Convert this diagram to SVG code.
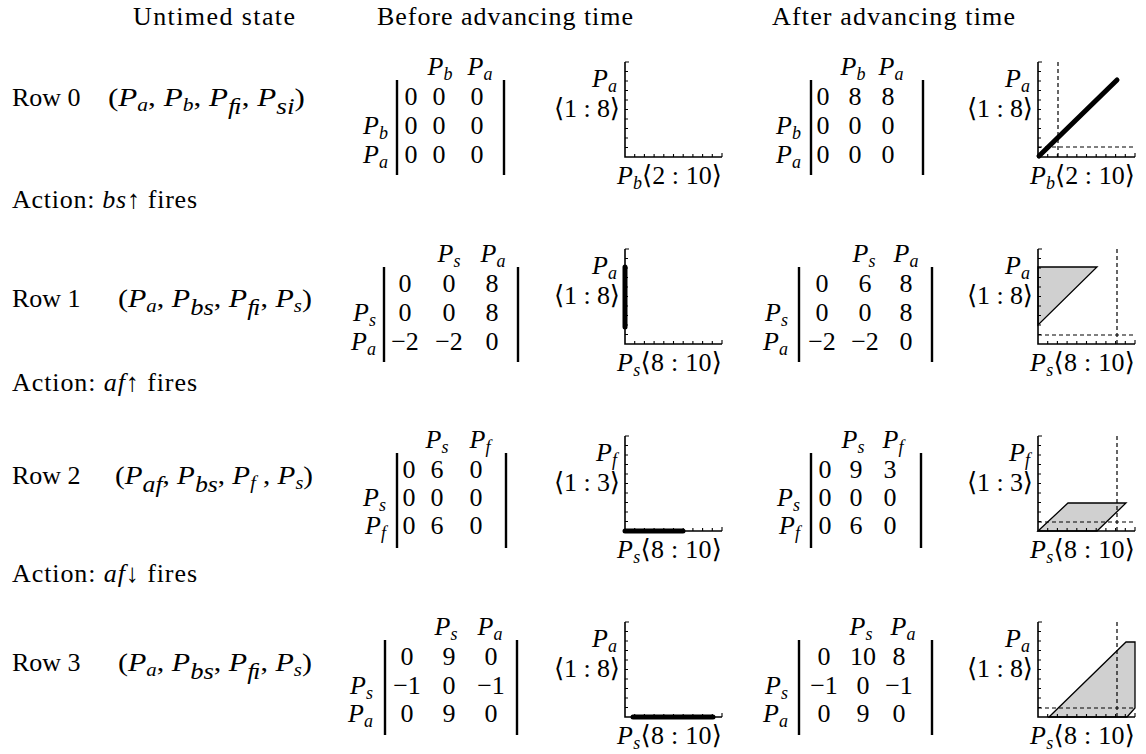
<svg xmlns="http://www.w3.org/2000/svg" xmlns:xlink="http://www.w3.org/1999/xlink" width="1146" height="754" viewBox="0 0 1146 754">
<style>
.t{font-family:"Liberation Serif","DejaVu Serif","DejaVu Sans",serif;font-size:26px;fill:#000}
.i{font-style:italic}
.s{font-size:18px;font-style:italic}
.s2{font-size:23px;font-style:italic}
.mid{text-anchor:middle}
.end{text-anchor:end}
.ax{stroke:#000;stroke-width:1.6;fill:none}
.tk{stroke:#000;stroke-width:1.1;fill:none}
.bar{stroke:#000;stroke-width:2.4}
.dash{stroke:#000;stroke-width:1.2;stroke-dasharray:4 3;fill:none}
.reg{fill:#d0d0d0;stroke:#000;stroke-width:1.3}
.thick{stroke:#000;stroke-width:5;stroke-linecap:round;fill:none}
</style>
<defs>
<g id="axes">
<path class="ax" d="M0,-95 V0 H97"/>
<path class="tk" d="M0,-95 h4 M0,-85.5 h3 M0,-76 h3 M0,-66.5 h3 M0,-57 h3 M0,-47.5 h3 M0,-38 h3 M0,-28.5 h3 M0,-19 h3 M0,-9.5 h3 M97,0 v-4 M9.7,0 v-3 M19.4,0 v-3 M29.1,0 v-3 M38.8,0 v-3 M48.5,0 v-3 M58.2,0 v-3 M67.9,0 v-3 M77.6,0 v-3 M87.3,0 v-3"/>
</g>
</defs>
<rect width="1146" height="754" fill="#fff"/>

<g id="headers">
<text class="t" x="133" y="25" textLength="162" lengthAdjust="spacing">Untimed state</text>
<text class="t" x="377" y="25" textLength="256" lengthAdjust="spacing">Before advancing time</text>
<text class="t" x="772" y="25" textLength="243" lengthAdjust="spacing">After advancing time</text>
</g>

<g id="row0-label">
<text class="t" x="12" y="106">Row 0</text>
<text class="t" x="108" y="106" textLength="197" lengthAdjust="spacingAndGlyphs">(<tspan class="i">P</tspan><tspan class="s" dy="5">a</tspan><tspan dy="-5">, </tspan><tspan class="i">P</tspan><tspan class="s" dy="5">b</tspan><tspan dy="-5">, </tspan><tspan class="i">P</tspan><tspan class="s2" dy="8">ﬁ</tspan><tspan dy="-8">, </tspan><tspan class="i">P</tspan><tspan class="s2" dy="8">si</tspan><tspan dy="-8">)</tspan></text>
</g>
<g id="action0"><text class="t" x="12" y="208" textLength="185" lengthAdjust="spacing">Action: <tspan class="i">bs</tspan>↑ fires</text></g>

<g id="row1-label">
<text class="t" x="12" y="307">Row 1</text>
<text class="t" x="118" y="307" textLength="194" lengthAdjust="spacingAndGlyphs">(<tspan class="i">P</tspan><tspan class="s" dy="5">a</tspan><tspan dy="-5">, </tspan><tspan class="i">P</tspan><tspan class="s2" dy="8">bs</tspan><tspan dy="-8">, </tspan><tspan class="i">P</tspan><tspan class="s2" dy="8">ﬁ</tspan><tspan dy="-8">, </tspan><tspan class="i">P</tspan><tspan class="s" dy="5">s</tspan><tspan dy="-5">)</tspan></text>
</g>
<g id="action1"><text class="t" x="12" y="391" textLength="185" lengthAdjust="spacing">Action: <tspan class="i">af</tspan>↑ fires</text></g>

<g id="row2-label">
<text class="t" x="12" y="484">Row 2</text>
<text class="t" x="115" y="484" textLength="198" lengthAdjust="spacingAndGlyphs">(<tspan class="i">P</tspan><tspan class="s2" dy="8">af</tspan><tspan dy="-8">, </tspan><tspan class="i">P</tspan><tspan class="s2" dy="8">bs</tspan><tspan dy="-8">, </tspan><tspan class="i">P</tspan><tspan class="s" dy="5">f</tspan><tspan dy="-5"> , </tspan><tspan class="i">P</tspan><tspan class="s" dy="5">s</tspan><tspan dy="-5">)</tspan></text>
</g>
<g id="action2"><text class="t" x="12" y="582" textLength="185" lengthAdjust="spacing">Action: <tspan class="i">af</tspan>↓ fires</text></g>

<g id="row3-label">
<text class="t" x="12" y="671">Row 3</text>
<text class="t" x="118" y="671" textLength="194" lengthAdjust="spacingAndGlyphs">(<tspan class="i">P</tspan><tspan class="s" dy="5">a</tspan><tspan dy="-5">, </tspan><tspan class="i">P</tspan><tspan class="s2" dy="8">bs</tspan><tspan dy="-8">, </tspan><tspan class="i">P</tspan><tspan class="s2" dy="8">ﬁ</tspan><tspan dy="-8">, </tspan><tspan class="i">P</tspan><tspan class="s" dy="5">s</tspan><tspan dy="-5">)</tspan></text>
</g>

<!-- Row 0 matrices -->
<g id="m0-before">
<text class="t mid" x="440" y="75"><tspan class="i">P</tspan><tspan class="s" dy="5">b</tspan></text>
<text class="t mid" x="480" y="75"><tspan class="i">P</tspan><tspan class="s" dy="5">a</tspan></text>
<text class="t end" x="388" y="134"><tspan class="i">P</tspan><tspan class="s" dy="5">b</tspan></text>
<text class="t end" x="388" y="163"><tspan class="i">P</tspan><tspan class="s" dy="5">a</tspan></text>
<line class="bar" x1="397" y1="80" x2="397" y2="175"/><line class="bar" x1="504" y1="80" x2="504" y2="175"/>
<text class="t mid" x="411" y="105">0</text><text class="t mid" x="439" y="105">0</text><text class="t mid" x="477" y="105">0</text>
<text class="t mid" x="411" y="134">0</text><text class="t mid" x="439" y="134">0</text><text class="t mid" x="477" y="134">0</text>
<text class="t mid" x="411" y="163">0</text><text class="t mid" x="439" y="163">0</text><text class="t mid" x="477" y="163">0</text>
</g>
<g id="m0-after">
<text class="t mid" x="853" y="75"><tspan class="i">P</tspan><tspan class="s" dy="5">b</tspan></text>
<text class="t mid" x="891" y="75"><tspan class="i">P</tspan><tspan class="s" dy="5">a</tspan></text>
<text class="t end" x="801" y="134"><tspan class="i">P</tspan><tspan class="s" dy="5">b</tspan></text>
<text class="t end" x="801" y="163"><tspan class="i">P</tspan><tspan class="s" dy="5">a</tspan></text>
<line class="bar" x1="811" y1="80" x2="811" y2="175"/><line class="bar" x1="923" y1="80" x2="923" y2="175"/>
<text class="t mid" x="823" y="105">0</text><text class="t mid" x="855" y="105">8</text><text class="t mid" x="888" y="105">8</text>
<text class="t mid" x="823" y="134">0</text><text class="t mid" x="855" y="134">0</text><text class="t mid" x="888" y="134">0</text>
<text class="t mid" x="823" y="163">0</text><text class="t mid" x="855" y="163">0</text><text class="t mid" x="888" y="163">0</text>
</g>

<!-- Row 1 matrices -->
<g id="m1-before">
<text class="t mid" x="449" y="262"><tspan class="i">P</tspan><tspan class="s" dy="5">s</tspan></text>
<text class="t mid" x="493" y="262"><tspan class="i">P</tspan><tspan class="s" dy="5">a</tspan></text>
<text class="t end" x="376" y="321"><tspan class="i">P</tspan><tspan class="s" dy="5">s</tspan></text>
<text class="t end" x="376" y="350"><tspan class="i">P</tspan><tspan class="s" dy="5">a</tspan></text>
<line class="bar" x1="384" y1="267" x2="384" y2="362"/><line class="bar" x1="518" y1="267" x2="518" y2="362"/>
<text class="t mid" x="405" y="292">0</text><text class="t mid" x="449" y="292">0</text><text class="t mid" x="492" y="292">8</text>
<text class="t mid" x="405" y="321">0</text><text class="t mid" x="449" y="321">0</text><text class="t mid" x="492" y="321">8</text>
<text class="t mid" x="405" y="350">−2</text><text class="t mid" x="449" y="350">−2</text><text class="t mid" x="492" y="350">0</text>
</g>
<g id="m1-after">
<text class="t mid" x="864" y="262"><tspan class="i">P</tspan><tspan class="s" dy="5">s</tspan></text>
<text class="t mid" x="906" y="262"><tspan class="i">P</tspan><tspan class="s" dy="5">a</tspan></text>
<text class="t end" x="788" y="321"><tspan class="i">P</tspan><tspan class="s" dy="5">s</tspan></text>
<text class="t end" x="788" y="350"><tspan class="i">P</tspan><tspan class="s" dy="5">a</tspan></text>
<line class="bar" x1="799" y1="267" x2="799" y2="362"/><line class="bar" x1="932" y1="267" x2="932" y2="362"/>
<text class="t mid" x="822" y="292">0</text><text class="t mid" x="865" y="292">6</text><text class="t mid" x="906" y="292">8</text>
<text class="t mid" x="822" y="321">0</text><text class="t mid" x="865" y="321">0</text><text class="t mid" x="906" y="321">8</text>
<text class="t mid" x="822" y="350">−2</text><text class="t mid" x="865" y="350">−2</text><text class="t mid" x="906" y="350">0</text>
</g>

<!-- Row 2 matrices -->
<g id="m2-before">
<text class="t mid" x="437" y="448"><tspan class="i">P</tspan><tspan class="s" dy="5">s</tspan></text>
<text class="t mid" x="480" y="448"><tspan class="i">P</tspan><tspan class="s" dy="5">f</tspan></text>
<text class="t end" x="386" y="506"><tspan class="i">P</tspan><tspan class="s" dy="5">s</tspan></text>
<text class="t end" x="386" y="534"><tspan class="i">P</tspan><tspan class="s" dy="5">f</tspan></text>
<line class="bar" x1="397" y1="453" x2="397" y2="548"/><line class="bar" x1="506" y1="453" x2="506" y2="548"/>
<text class="t mid" x="409" y="478">0</text><text class="t mid" x="437" y="478">6</text><text class="t mid" x="476" y="478">0</text>
<text class="t mid" x="409" y="506">0</text><text class="t mid" x="437" y="506">0</text><text class="t mid" x="476" y="506">0</text>
<text class="t mid" x="409" y="534">0</text><text class="t mid" x="437" y="534">6</text><text class="t mid" x="476" y="534">0</text>
</g>
<g id="m2-after">
<text class="t mid" x="853" y="448"><tspan class="i">P</tspan><tspan class="s" dy="5">s</tspan></text>
<text class="t mid" x="893" y="448"><tspan class="i">P</tspan><tspan class="s" dy="5">f</tspan></text>
<text class="t end" x="800" y="506"><tspan class="i">P</tspan><tspan class="s" dy="5">s</tspan></text>
<text class="t end" x="800" y="534"><tspan class="i">P</tspan><tspan class="s" dy="5">f</tspan></text>
<line class="bar" x1="811" y1="453" x2="811" y2="548"/><line class="bar" x1="921" y1="453" x2="921" y2="548"/>
<text class="t mid" x="825" y="478">0</text><text class="t mid" x="856" y="478">9</text><text class="t mid" x="890" y="478">3</text>
<text class="t mid" x="825" y="506">0</text><text class="t mid" x="856" y="506">0</text><text class="t mid" x="890" y="506">0</text>
<text class="t mid" x="825" y="534">0</text><text class="t mid" x="856" y="534">6</text><text class="t mid" x="890" y="534">0</text>
</g>

<!-- Row 3 matrices -->
<g id="m3-before">
<text class="t mid" x="446" y="635"><tspan class="i">P</tspan><tspan class="s" dy="5">s</tspan></text>
<text class="t mid" x="490" y="635"><tspan class="i">P</tspan><tspan class="s" dy="5">a</tspan></text>
<text class="t end" x="373" y="694"><tspan class="i">P</tspan><tspan class="s" dy="5">s</tspan></text>
<text class="t end" x="373" y="722"><tspan class="i">P</tspan><tspan class="s" dy="5">a</tspan></text>
<line class="bar" x1="385" y1="640" x2="385" y2="735"/><line class="bar" x1="517" y1="640" x2="517" y2="735"/>
<text class="t mid" x="407" y="665">0</text><text class="t mid" x="449" y="665">9</text><text class="t mid" x="491" y="665">0</text>
<text class="t mid" x="407" y="694">−1</text><text class="t mid" x="449" y="694">0</text><text class="t mid" x="491" y="694">−1</text>
<text class="t mid" x="407" y="722">0</text><text class="t mid" x="449" y="722">9</text><text class="t mid" x="491" y="722">0</text>
</g>
<g id="m3-after">
<text class="t mid" x="861" y="635"><tspan class="i">P</tspan><tspan class="s" dy="5">s</tspan></text>
<text class="t mid" x="903" y="635"><tspan class="i">P</tspan><tspan class="s" dy="5">a</tspan></text>
<text class="t end" x="788" y="694"><tspan class="i">P</tspan><tspan class="s" dy="5">s</tspan></text>
<text class="t end" x="788" y="722"><tspan class="i">P</tspan><tspan class="s" dy="5">a</tspan></text>
<line class="bar" x1="799" y1="640" x2="799" y2="735"/><line class="bar" x1="932" y1="640" x2="932" y2="735"/>
<text class="t mid" x="824" y="665">0</text><text class="t mid" x="863" y="665">10</text><text class="t mid" x="899" y="665">8</text>
<text class="t mid" x="824" y="694">−1</text><text class="t mid" x="863" y="694">0</text><text class="t mid" x="899" y="694">−1</text>
<text class="t mid" x="824" y="722">0</text><text class="t mid" x="863" y="722">9</text><text class="t mid" x="899" y="722">0</text>
</g>

<!-- Plots before -->
<g id="p0-before">
<use xlink:href="#axes" href="#axes" x="625" y="157"/>
<text class="t end" x="617" y="87"><tspan class="i">P</tspan><tspan class="s" dy="5">a</tspan></text>
<text class="t end" x="620" y="117" textLength="66" lengthAdjust="spacing">⟨1 : 8⟩</text>
<text class="t" x="617" y="184" textLength="105" lengthAdjust="spacing"><tspan class="i">P</tspan><tspan class="s" dy="5">b</tspan><tspan dy="-5">⟨2 : 10⟩</tspan></text>
</g>
<g id="p1-before">
<use xlink:href="#axes" href="#axes" x="625" y="344"/>
<line class="thick" x1="625" y1="267" x2="625" y2="327"/>
<text class="t end" x="617" y="274"><tspan class="i">P</tspan><tspan class="s" dy="5">a</tspan></text>
<text class="t end" x="620" y="304" textLength="66" lengthAdjust="spacing">⟨1 : 8⟩</text>
<text class="t" x="617" y="371" textLength="105" lengthAdjust="spacing"><tspan class="i">P</tspan><tspan class="s" dy="5">s</tspan><tspan dy="-5">⟨8 : 10⟩</tspan></text>
</g>
<g id="p2-before">
<use xlink:href="#axes" href="#axes" x="625" y="531"/>
<line class="thick" x1="625" y1="531" x2="683" y2="531"/>
<text class="t end" x="617" y="461"><tspan class="i">P</tspan><tspan class="s" dy="5">f</tspan></text>
<text class="t end" x="620" y="491" textLength="66" lengthAdjust="spacing">⟨1 : 3⟩</text>
<text class="t" x="617" y="558" textLength="105" lengthAdjust="spacing"><tspan class="i">P</tspan><tspan class="s" dy="5">s</tspan><tspan dy="-5">⟨8 : 10⟩</tspan></text>
</g>
<g id="p3-before">
<use xlink:href="#axes" href="#axes" x="625" y="717"/>
<line class="thick" x1="633" y1="717" x2="713" y2="717"/>
<text class="t end" x="617" y="647"><tspan class="i">P</tspan><tspan class="s" dy="5">a</tspan></text>
<text class="t end" x="620" y="677" textLength="66" lengthAdjust="spacing">⟨1 : 8⟩</text>
<text class="t" x="617" y="744" textLength="105" lengthAdjust="spacing"><tspan class="i">P</tspan><tspan class="s" dy="5">s</tspan><tspan dy="-5">⟨8 : 10⟩</tspan></text>
</g>

<!-- Plots after -->
<g id="p0-after">
<line class="dash" x1="1058" y1="62" x2="1058" y2="157"/>
<line class="dash" x1="1038" y1="147" x2="1135" y2="147"/>
<use xlink:href="#axes" href="#axes" x="1038" y="157"/>
<line class="thick" x1="1039" y1="156" x2="1117" y2="80"/>
<text class="t end" x="1030" y="87"><tspan class="i">P</tspan><tspan class="s" dy="5">a</tspan></text>
<text class="t end" x="1033" y="117" textLength="66" lengthAdjust="spacing">⟨1 : 8⟩</text>
<text class="t" x="1030" y="184" textLength="105" lengthAdjust="spacing"><tspan class="i">P</tspan><tspan class="s" dy="5">b</tspan><tspan dy="-5">⟨2 : 10⟩</tspan></text>
</g>
<g id="p1-after">
<polygon class="reg" points="1038,267 1097,267 1038,325"/>
<line class="dash" x1="1117" y1="249" x2="1117" y2="344"/>
<line class="dash" x1="1038" y1="335" x2="1135" y2="335"/>
<use xlink:href="#axes" href="#axes" x="1038" y="344"/>
<text class="t end" x="1030" y="274"><tspan class="i">P</tspan><tspan class="s" dy="5">a</tspan></text>
<text class="t end" x="1033" y="304" textLength="66" lengthAdjust="spacing">⟨1 : 8⟩</text>
<text class="t" x="1030" y="371" textLength="105" lengthAdjust="spacing"><tspan class="i">P</tspan><tspan class="s" dy="5">s</tspan><tspan dy="-5">⟨8 : 10⟩</tspan></text>
</g>
<g id="p2-after">
<polygon class="reg" points="1038,531 1068,503 1126,503 1097,531"/>
<line class="dash" x1="1117" y1="436" x2="1117" y2="531"/>
<line class="dash" x1="1038" y1="522" x2="1135" y2="522"/>
<use xlink:href="#axes" href="#axes" x="1038" y="531"/>
<text class="t end" x="1030" y="461"><tspan class="i">P</tspan><tspan class="s" dy="5">f</tspan></text>
<text class="t end" x="1033" y="491" textLength="66" lengthAdjust="spacing">⟨1 : 3⟩</text>
<text class="t" x="1030" y="558" textLength="105" lengthAdjust="spacing"><tspan class="i">P</tspan><tspan class="s" dy="5">s</tspan><tspan dy="-5">⟨8 : 10⟩</tspan></text>
</g>
<g id="p3-after">
<polygon class="reg" points="1049,717 1126,642 1135,642 1135,708 1127,717"/>
<line class="dash" x1="1117" y1="622" x2="1117" y2="717"/>
<line class="dash" x1="1038" y1="708" x2="1135" y2="708"/>
<use xlink:href="#axes" href="#axes" x="1038" y="717"/>
<text class="t end" x="1030" y="647"><tspan class="i">P</tspan><tspan class="s" dy="5">a</tspan></text>
<text class="t end" x="1033" y="677" textLength="66" lengthAdjust="spacing">⟨1 : 8⟩</text>
<text class="t" x="1030" y="744" textLength="105" lengthAdjust="spacing"><tspan class="i">P</tspan><tspan class="s" dy="5">s</tspan><tspan dy="-5">⟨8 : 10⟩</tspan></text>
</g>
</svg>
